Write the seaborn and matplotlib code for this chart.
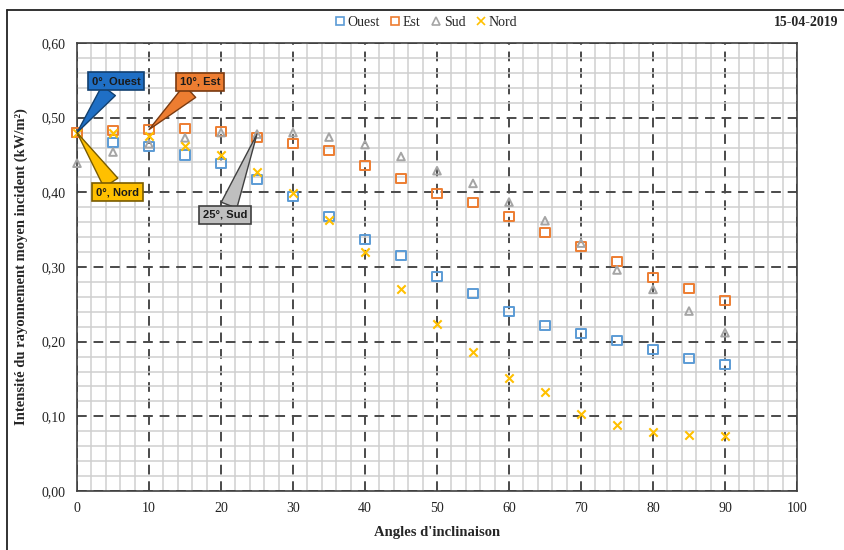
import matplotlib
matplotlib.use("Agg")
import matplotlib.pyplot as plt
from matplotlib.ticker import MultipleLocator, FuncFormatter
from matplotlib.lines import Line2D
import seaborn as sns
import pandas as pd

# Tilt angles (degrees) and mean incident irradiance (kW/m²) per orientation
angles = [0, 5, 10, 15, 20, 25, 30, 35, 40, 45, 50, 55, 60, 65, 70, 75, 80, 85, 90]
ouest = [0.480, 0.467, 0.462, 0.450, 0.438, 0.417, 0.394, 0.368, 0.337, 0.315, 0.287,
         0.264, 0.241, 0.221, 0.211, 0.202, 0.190, 0.178, 0.170]
est = [0.480, 0.483, 0.484, 0.485, 0.481, 0.474, 0.466, 0.456, 0.436, 0.418, 0.398,
       0.387, 0.367, 0.346, 0.327, 0.307, 0.286, 0.271, 0.255]
sud = [0.439, 0.454, 0.465, 0.473, 0.480, 0.478, 0.480, 0.474, 0.464, 0.448, 0.429,
       0.412, 0.387, 0.362, 0.332, 0.296, 0.270, 0.241, 0.212]
nord = [0.480, 0.480, 0.475, 0.462, 0.450, 0.427, 0.399, 0.363, 0.320, 0.270, 0.223,
        0.186, 0.152, 0.132, 0.103, 0.088, 0.079, 0.075, 0.073]

series_names = ["Ouest", "Est", "Sud", "Nord"]
series_values = [ouest, est, sud, nord]
colors = {"Ouest": "#5B9BD5", "Est": "#ED7D31", "Sud": "#A5A5A5", "Nord": "#FFC000"}
markers = {"Ouest": "s", "Est": "s", "Sud": "^", "Nord": "x"}
sizes = {"Ouest": 42, "Est": 42, "Sud": 30, "Nord": 36}

x_ticks = [0, 10, 20, 30, 40, 50, 60, 70, 80, 90, 100]
y_ticks = [0.0, 0.1, 0.2, 0.3, 0.4, 0.5, 0.6]

df = pd.DataFrame({
    "angle": angles * len(series_names),
    "value": [v for vals in series_values for v in vals],
    "orientation": [n for n in series_names for _ in angles],
})

sns.set_style("white")
plt.rcParams["font.family"] = ["Liberation Serif", "DejaVu Serif"]

fig = plt.figure(figsize=(8.45, 5.5), dpi=100)
ax = fig.add_axes([77 / 845, 1 - 491 / 550, 720 / 845, 448 / 550])

for name in series_names:
    sub = df[df["orientation"] == name]
    sns.scatterplot(data=sub, x="angle", y="value", ax=ax, marker=markers[name],
                    color=colors[name], s=sizes[name], legend=False, zorder=5)
    coll = ax.collections[-1]
    coll.set_clip_on(False)
    if markers[name] == "x":
        coll.set_edgecolor(colors[name])
        coll.set_facecolor(colors[name])
        coll.set_linewidth(1.5)
    else:
        coll.set_facecolor("none")
        coll.set_edgecolor(colors[name])
        coll.set_linewidth(1.4)

ax.set_xlim(0, 100)
ax.set_ylim(0, 0.6)
ax.set_xticks(x_ticks)
ax.set_yticks(y_ticks)
ax.xaxis.set_minor_locator(MultipleLocator(2))
ax.yaxis.set_minor_locator(MultipleLocator(0.02))
ax.yaxis.set_major_formatter(FuncFormatter(lambda v, p: f"{v:.2f}".replace(".", ",")))

ax.grid(which="minor", color="#cfcfcf", linewidth=1.1, linestyle="-", zorder=0)
ax.grid(which="major", color="#4a4a4a", linewidth=1.4, linestyle=(0, (5, 3.5)), zorder=1)
ax.set_axisbelow(True)
ax.tick_params(which="both", length=0, labelsize=10, colors="#222222", pad=8)
for s in ax.spines.values():
    s.set_color("#404040")
    s.set_linewidth(1.2)

ax.set_xlabel("Angles d'inclinaison", fontsize=10.5, fontweight="bold", labelpad=8)
ax.set_ylabel("Intensité du rayonnement moyen incident (kW/m²)", fontsize=10.5,
              fontweight="bold", labelpad=10)

# Callouts marking the optimum of each orientation
callouts = [
    ("0°, Ouest", (0, 0.480), (5.4, 0.549), "#1F6FC5", "#12406F"),
    ("10°, Est", (10, 0.484), (17.1, 0.548), "#ED7D31", "#7A3A10"),
    ("0°, Nord", (0, 0.480), (5.6, 0.400), "#FFC000", "#7A5C00"),
    ("25°, Sud", (25, 0.478), (20.6, 0.370), "#BFBFBF", "#404040"),
]
for label, xy, xyt, fc, ec in callouts:
    ax.annotate(label, xy=xy, xytext=xyt, ha="center", va="center",
                fontsize=8, fontweight="bold", family=["Liberation Sans", "DejaVu Sans"],
                color="#1a1a1a", zorder=10, annotation_clip=False,
                bbox=dict(boxstyle="square,pad=0.35", fc=fc, ec=ec, lw=1.2),
                arrowprops=dict(arrowstyle="wedge,tail_width=1.5,shrink_factor=0.5",
                                fc=fc, ec=ec, lw=1.0, shrinkA=0, shrinkB=0))

handles = [Line2D([], [], linestyle="none", marker=markers[n], markersize=6,
                  markerfacecolor="none" if markers[n] != "x" else colors[n],
                  markeredgecolor=colors[n], markeredgewidth=1.2, label=n)
           for n in series_names]
fig.legend(handles=handles, loc="center", bbox_to_anchor=(425 / 845, 1 - 22 / 550),
           ncol=4, frameon=False, fontsize=10, handletextpad=0.05, columnspacing=0.6,
           handlelength=1.0, borderpad=0)

fig.text(838 / 845, 1 - 22 / 550, "15-04-2019", ha="right", va="center",
         fontsize=10, fontweight="bold")

# Figure frame edges (left and top)
fig.add_artist(Line2D([7 / 845, 7 / 845], [0, 1 - 10 / 550], color="#222222", lw=1.3,
                      transform=fig.transFigure))
fig.add_artist(Line2D([7 / 845, 1], [1 - 10 / 550, 1 - 10 / 550], color="#222222", lw=1.3,
                      transform=fig.transFigure))

fig.savefig("out.png", dpi=100)
